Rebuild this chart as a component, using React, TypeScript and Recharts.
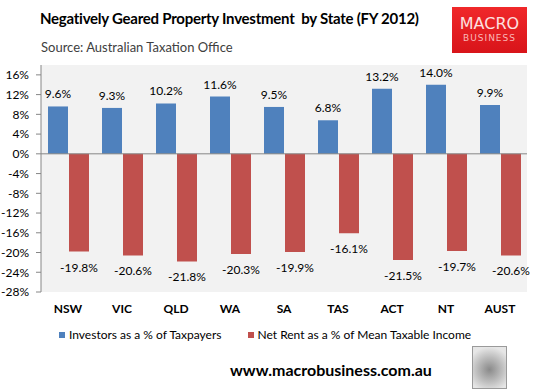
import React from "react";
import {
  Bar,
  BarChart,
  CartesianGrid,
  LabelList,
  ReferenceLine,
  XAxis,
  YAxis,
} from "recharts";

const STATES = ["NSW", "VIC", "QLD", "WA", "SA", "TAS", "ACT", "NT", "AUST"];
const INVESTORS = [9.6, 9.3, 10.2, 11.6, 9.5, 6.8, 13.2, 14.0, 9.9];
const NET_RENT = [-19.8, -20.6, -21.8, -20.3, -19.9, -16.1, -21.5, -19.7, -20.6];
const Y_TICKS = [-28, -24, -20, -16, -12, -8, -4, 0, 4, 8, 12, 16];

const BLUE = "#4F81BD";
const RED = "#C0504D";
const AXIS = "#868686";
const FONT = "Lato, 'Open Sans', sans-serif";

const data = STATES.map((state, i) => ({
  state,
  investors: INVESTORS[i],
  netRent: NET_RENT[i],
}));

// value label: above positive bars, below negative ones
function ValueLabel(props: any) {
  const { x, y, width, height, value } = props;
  if (value === undefined) return null;
  const top = Math.min(y, y + height);
  const bottom = Math.max(y, y + height);
  const neg = value < 0;
  return (
    <text
      x={x + width / 2}
      y={neg ? bottom + 20 : top - 8}
      textAnchor="middle"
      style={{ fontSize: 12, fill: "#000", fontFamily: FONT }}
    >
      {`${value.toFixed(1)}%`}
    </text>
  );
}

export default function App() {
  return (
    <div
      style={{
        position: "absolute",
        left: 0,
        top: 0,
        width: 543,
        height: 391,
        background: "#fff",
        fontFamily: FONT,
      }}
    >
      <div
        style={{
          position: "absolute",
          left: 40,
          top: 9,
          fontSize: 15,
          fontWeight: 700,
          letterSpacing: -0.25,
          color: "#000",
          whiteSpace: "pre",
        }}
      >
        {"Negatively Geared Property Investment  by State (FY 2012)"}
      </div>
      <div
        style={{
          position: "absolute",
          left: 41,
          top: 39,
          fontSize: 13,
          color: "#404040",
        }}
      >
        Source: Australian Taxation Office
      </div>

      {/* logo box */}
      <div
        style={{
          position: "absolute",
          left: 452,
          top: 7,
          width: 75,
          height: 46,
          background: "linear-gradient(180deg, #f0282a 0%, #d8141a 100%)",
          color: "#fde0e0",
          textAlign: "center",
          fontFamily: "'DejaVu Sans', sans-serif",
        }}
      >
        <div style={{ fontSize: 16, marginTop: 9, lineHeight: "16px" }}>
          MACRO
        </div>
        <div
          style={{
            fontSize: 9,
            letterSpacing: 1,
            lineHeight: "12px",
            color: "#f9b8b8",
          }}
        >
          BUSINESS
        </div>
      </div>

      <div style={{ position: "absolute", left: 0, top: 0 }}>
        <BarChart
          width={543}
          height={391}
          data={data}
          margin={{ top: 65, right: 16, bottom: 69, left: 0 }}
          barSize={20}
          barGap={1}
        >
          <CartesianGrid
            fill="#F2F2F2"
            horizontal={false}
            vertical={false}
          />
          <XAxis
            dataKey="state"
            height={30}
            axisLine={false}
            tickLine={false}
            interval={0}
            tick={{
              fontSize: 12,
              fontWeight: 700,
              fill: "#000",
              fontFamily: FONT,
            }}
            tickMargin={6}
          />
          <YAxis
            width={41}
            domain={[-28, 18]}
            ticks={Y_TICKS}
            interval={0}
            allowDataOverflow
            tickFormatter={(v) => `${v}%`}
            axisLine={{ stroke: AXIS }}
            tickLine={{ stroke: AXIS }}
            tickSize={5}
            tickMargin={7}
            tick={{ fontSize: 12, fill: "#000", fontFamily: FONT }}
          />
          <ReferenceLine y={0} stroke={AXIS} strokeWidth={1} />
          <Bar dataKey="investors" fill={BLUE} isAnimationActive={false}>
            <LabelList dataKey="investors" content={<ValueLabel />} />
          </Bar>
          <Bar dataKey="netRent" fill={RED} isAnimationActive={false}>
            <LabelList dataKey="netRent" content={<ValueLabel />} />
          </Bar>
        </BarChart>
      </div>

      {/* legend */}
      <div
        style={{
          position: "absolute",
          left: 59,
          top: 327,
          display: "flex",
          alignItems: "center",
          fontSize: 12,
          color: "#000",
          whiteSpace: "nowrap",
        }}
      >
        <span
          style={{
            display: "inline-block",
            width: 6,
            height: 6,
            background: BLUE,
            marginRight: 4,
          }}
        />
        <span style={{ marginRight: 26 }}>Investors as a % of Taxpayers</span>
        <span
          style={{
            display: "inline-block",
            width: 6,
            height: 6,
            background: RED,
            marginRight: 4,
          }}
        />
        <span>Net Rent as a % of Mean Taxable Income</span>
      </div>

      <div
        style={{
          position: "absolute",
          left: 230,
          top: 360,
          fontSize: 16,
          fontWeight: 700,
          color: "#000",
        }}
      >
        www.macrobusiness.com.au
      </div>

      {/* wolf badge */}
      <div
        style={{
          position: "absolute",
          left: 472,
          top: 346,
          width: 33,
          height: 41,
          border: "1px solid #9a9a9a",
          background:
            "radial-gradient(circle at 50% 55%, #8a8a8a 0%, #bdbdbd 45%, #e6e6e6 80%)",
        }}
      />
    </div>
  );
}
